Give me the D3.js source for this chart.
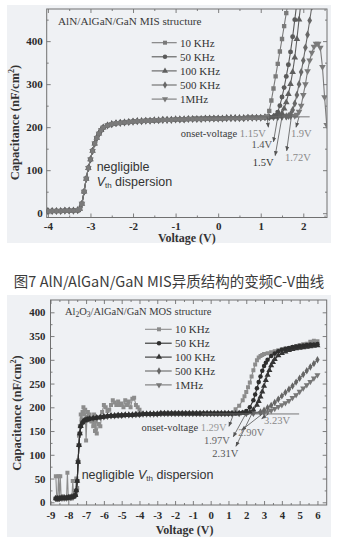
<!DOCTYPE html>
<html>
<head>
<meta charset="utf-8">
<script src="https://cdn.jsdelivr.net/npm/d3@7/dist/d3.min.js"></script>
<style>
  html, body { margin: 0; padding: 0; background: #fff; }
  svg { display: block; }
</style>
</head>
<body>
<svg id="fig" width="338" height="537"></svg>
<script>
// ---------------------------------------------------------------------------
// Data: capacitance (nF/cm²) versus gate voltage (V)
// ---------------------------------------------------------------------------
const frequencies = ["10 KHz", "50 KHz", "100 KHz", "500 KHz", "1MHz"];

// AlN/AlGaN/GaN MIS structure — part of the sweep shared by every frequency
const misShared = [
  [-4.0, 5], [-3.9, 5], [-3.8, 5], [-3.7, 5], [-3.6, 6], [-3.5, 6], [-3.4, 6],
  [-3.3, 7], [-3.25, 10], [-3.2, 22], [-3.15, 50], [-3.1, 80], [-3.05, 105],
  [-3.0, 125], [-2.95, 145], [-2.9, 162], [-2.85, 175], [-2.8, 185], [-2.75, 193],
  [-2.7, 199], [-2.6, 204], [-2.5, 207], [-2.4, 209], [-2.3, 210], [-2.2, 211],
  [-2.1, 212], [-2.0, 213], [-1.9, 214], [-1.8, 214], [-1.7, 215], [-1.6, 215],
  [-1.5, 216], [-1.4, 216], [-1.3, 217], [-1.2, 217], [-1.1, 217], [-1.0, 218],
  [-0.9, 218], [-0.8, 218], [-0.7, 219], [-0.6, 219], [-0.5, 219], [-0.4, 219],
  [-0.3, 220], [-0.2, 220], [-0.1, 220], [0.0, 220], [0.1, 220], [0.2, 221],
  [0.3, 221], [0.4, 221], [0.5, 221], [0.6, 221], [0.7, 222], [0.8, 222],
  [0.9, 222], [1.0, 222], [1.1, 223]
];
// accumulation branch of each frequency
const mis10k = [[1.15, 225], [1.2, 238], [1.25, 262], [1.3, 290], [1.35, 318], [1.4, 347],
  [1.45, 376], [1.5, 405], [1.55, 435], [1.6, 465], [1.65, 495]];
const mis50k = [[1.2, 223], [1.3, 224], [1.35, 227], [1.4, 235], [1.45, 250], [1.5, 270],
  [1.55, 292], [1.6, 318], [1.65, 345], [1.7, 375], [1.75, 410], [1.8, 450], [1.85, 490]];
const mis100k = [[1.2, 223], [1.3, 224], [1.4, 225], [1.45, 227], [1.5, 232], [1.55, 243],
  [1.6, 258], [1.65, 277], [1.7, 300], [1.75, 328], [1.8, 362], [1.85, 405], [1.9, 450], [1.95, 495]];
const mis500k = [[1.2, 223], [1.3, 224], [1.4, 224], [1.5, 225], [1.6, 225], [1.65, 226],
  [1.7, 230], [1.75, 240], [1.8, 255], [1.85, 275], [1.9, 300], [1.95, 328], [2.0, 355],
  [2.05, 385], [2.1, 415], [2.15, 448], [2.2, 480]];
const mis1m = [[1.2, 223], [1.3, 224], [1.4, 224], [1.5, 224], [1.6, 225], [1.7, 225],
  [1.8, 226], [1.85, 229], [1.9, 236], [1.95, 250], [2.0, 275], [2.05, 300], [2.1, 330],
  [2.15, 355], [2.2, 373], [2.25, 387], [2.3, 394], [2.35, 394], [2.4, 385], [2.45, 340],
  [2.5, 270], [2.55, 205]];

const misOnsetV = [1.15, 1.4, 1.5, 1.72, 1.9];
const misOnsetText = ["1.15V", "1.4V", "1.5V", "1.72V", "1.9V"];
const misBaselineC = 224;
const misXTicks = [-4, -3, -2, -1, 0, 1, 2];
const misXMinor = [-3.5, -2.5, -1.5, -0.5, 0.5, 1.5, 2.5];
const misYTicks = [0, 100, 200, 300, 400];
const misYMinor = [50, 150, 250, 350, 450];

// Al2O3/AlGaN/GaN MOS structure
const mosLead10k = [
  [-8.7, 55], [-8.65, 10], [-8.6, 5], [-8.55, 55], [-8.5, 10], [-8.45, 55], [-8.4, 8],
  [-8.3, 12], [-8.2, 10], [-8.1, 8], [-8.05, 62], [-8.0, 10], [-7.9, 12], [-7.8, 8],
  [-7.75, 45], [-7.7, 15], [-7.6, 20], [-7.55, 50], [-7.5, 30], [-7.45, 88], [-7.4, 140],
  [-7.35, 160], [-7.3, 185], [-7.25, 175], [-7.2, 190], [-7.15, 200], [-7.1, 185],
  [-7.05, 195], [-7.0, 130], [-6.95, 180], [-6.9, 190], [-6.85, 175], [-6.8, 185],
  [-6.7, 170], [-6.6, 160], [-6.55, 185], [-6.5, 150], [-6.45, 170], [-6.4, 145],
  [-6.3, 165], [-6.2, 160], [-6.1, 190], [-6.0, 205], [-5.9, 200], [-5.8, 192],
  [-5.7, 195], [-5.6, 205], [-5.5, 215], [-5.4, 210], [-5.3, 205], [-5.2, 212],
  [-5.1, 205], [-5.0, 208], [-4.9, 200], [-4.8, 215], [-4.7, 205], [-4.6, 212],
  [-4.5, 200], [-4.4, 218], [-4.3, 220], [-4.2, 205], [-4.1, 200], [-4.0, 195]
];
const mosLead = [
  [-8.7, 8], [-8.6, 8], [-8.5, 8], [-8.4, 9], [-8.3, 9], [-8.2, 9], [-8.1, 9], [-8.0, 10],
  [-7.9, 10], [-7.8, 11], [-7.7, 12], [-7.6, 15], [-7.55, 25], [-7.5, 45], [-7.45, 85],
  [-7.4, 120], [-7.35, 145], [-7.3, 160], [-7.2, 168], [-7.1, 172], [-7.0, 174],
  [-6.9, 175], [-6.8, 176], [-6.6, 177], [-6.4, 178], [-6.2, 179], [-6.0, 180],
  [-5.8, 181], [-5.6, 182], [-5.4, 182], [-5.2, 183], [-5.0, 183], [-4.8, 184],
  [-4.6, 184], [-4.4, 184], [-4.2, 185], [-4.0, 185]
];
const mosShared = [
  [-3.8, 186], [-3.6, 186], [-3.4, 186], [-3.2, 186], [-3.0, 186], [-2.8, 187],
  [-2.6, 187], [-2.4, 187], [-2.2, 187], [-2.0, 187], [-1.8, 187], [-1.6, 187],
  [-1.4, 187], [-1.2, 187], [-1.0, 187], [-0.8, 187], [-0.6, 187], [-0.4, 187],
  [-0.2, 187], [0.0, 187], [0.2, 187], [0.4, 187], [0.6, 187], [0.8, 187], [1.0, 187]
];
const mos10k = [[1.2, 188], [1.4, 196], [1.6, 203], [1.8, 215], [1.9, 223], [2.0, 232],
  [2.1, 242], [2.2, 252], [2.3, 265], [2.4, 278], [2.5, 290], [2.6, 299], [2.7, 305],
  [2.8, 308], [2.9, 310], [3.0, 312], [3.2, 314], [3.4, 316], [3.6, 318], [3.8, 320],
  [4.0, 322], [4.2, 324], [4.4, 325], [4.6, 327], [4.8, 329], [5.0, 331], [5.2, 333],
  [5.4, 334], [5.6, 338], [5.7, 335], [5.8, 340], [5.9, 336], [6.0, 339]];
const mos50k = [[1.2, 187], [1.4, 187], [1.6, 188], [1.8, 189], [2.0, 192], [2.2, 200],
  [2.4, 215], [2.5, 227], [2.6, 240], [2.7, 253], [2.8, 265], [2.9, 277], [3.0, 287],
  [3.1, 294], [3.2, 300], [3.4, 308], [3.6, 313], [3.8, 318], [4.0, 321], [4.2, 323],
  [4.4, 325], [4.6, 327], [4.8, 328], [5.0, 329], [5.2, 330], [5.4, 331], [5.6, 332],
  [5.8, 332], [6.0, 333]];
const mos100k = [[1.2, 187], [1.4, 187], [1.6, 187], [1.8, 188], [2.0, 188], [2.2, 190],
  [2.4, 195], [2.6, 205], [2.7, 213], [2.8, 222], [2.9, 233], [3.0, 245], [3.1, 257],
  [3.2, 268], [3.3, 278], [3.4, 288], [3.5, 295], [3.6, 301], [3.8, 309], [4.0, 314],
  [4.2, 317], [4.4, 320], [4.6, 322], [4.8, 324], [5.0, 325], [5.2, 326], [5.4, 327],
  [5.6, 328], [5.8, 329], [6.0, 330]];
const mos500k = [[1.2, 187], [1.6, 187], [2.0, 187], [2.4, 188], [2.8, 190], [3.0, 194],
  [3.2, 199], [3.4, 204], [3.6, 210], [3.8, 217], [4.0, 224], [4.2, 231], [4.4, 238],
  [4.6, 245], [4.8, 253], [5.0, 261], [5.2, 269], [5.4, 277], [5.6, 285], [5.8, 292], [6.0, 300]];
const mos1m = [[1.2, 187], [1.6, 187], [2.0, 187], [2.4, 187], [2.8, 188], [3.0, 188],
  [3.2, 190], [3.4, 193], [3.6, 197], [3.8, 201], [4.0, 205], [4.2, 209], [4.4, 214],
  [4.6, 220], [4.8, 226], [5.0, 233], [5.2, 240], [5.4, 247], [5.6, 254], [5.8, 261], [6.0, 268]];

const mosOnsetV = [1.29, 1.97, 2.31, 2.90, 3.23];
const mosOnsetText = ["1.29V", "1.97V", "2.31V", "2.90V", "3.23V"];
const mosBaselineC = 186;
const mosXTicks = [-9, -8, -7, -6, -5, -4, -3, -2, -1, 0, 1, 2, 3, 4, 5, 6];
const mosXMinor = [-8.5, -7.5, -6.5, -5.5, -4.5, -3.5, -2.5, -1.5, -0.5, 0.5, 1.5, 2.5, 3.5, 4.5, 5.5];
const mosYTicks = [0, 50, 100, 150, 200, 250, 300, 350, 400];
const mosYMinor = [25, 75, 125, 175, 225, 275, 325, 375];

const captionText = "图7 AlN/AlGaN/GaN MIS异质结构的变频C-V曲线";

// ---------------------------------------------------------------------------
// Styles
// ---------------------------------------------------------------------------
const SERIF = "'Liberation Serif','Times New Roman',serif";
const SANS = "'Liberation Sans',Arial,sans-serif";
const CJK = "'Noto Sans CJK SC','Noto Sans',sans-serif";
const FRAME = "#707070";
const PAPER = "#eff1f4";

const symbolTypes = [d3.symbolSquare, d3.symbolCircle, d3.symbolTriangle, d3.symbolDiamond, d3.symbolTriangle];
const symbolTurn = [0, 0, 0, 0, 180];

const svg = d3.select("#fig");
const defs = svg.append("defs");

defs.append("marker")
  .attr("id", "arrowhead")
  .attr("viewBox", "0 0 10 10")
  .attr("refX", 9).attr("refY", 5)
  .attr("markerUnits", "userSpaceOnUse")
  .attr("markerWidth", 5).attr("markerHeight", 5)
  .attr("orient", "auto")
  .append("path").attr("d", "M0,1 L10,5 L0,9 Z").attr("fill", "#555");

// scanned-paper tone behind each panel
svg.append("rect").attr("x", 7).attr("y", 5).attr("width", 324).attr("height", 238).attr("fill", PAPER);
svg.append("rect").attr("x", 7).attr("y", 295).attr("width", 324).attr("height", 242).attr("fill", PAPER);

// ---------------------------------------------------------------------------
// One C-V panel
// ---------------------------------------------------------------------------
function drawPanel(p) {
  const f = p.frame;
  const x = d3.scaleLinear().domain(p.xDomain).range([f.left, f.right]);
  const y = d3.scaleLinear().domain(p.yDomain).range([f.bottom, f.top]);
  const g = svg.append("g");

  defs.append("clipPath").attr("id", p.id + "-clip")
    .append("rect").attr("x", f.left).attr("y", f.top)
    .attr("width", f.right - f.left).attr("height", f.bottom - f.top);

  const styleAxis = sel => {
    sel.select(".domain").remove();
    sel.selectAll("line").attr("stroke", FRAME).attr("stroke-width", 0.9);
    sel.selectAll("text").attr("font-family", SERIF).attr("font-weight", "bold")
      .attr("font-size", p.tickFont).attr("fill", "#2b2b2b");
  };
  const fmt = d => String(d);

  // major and minor ticks on all four sides, pointing inward
  g.append("g").attr("transform", `translate(0,${f.bottom})`)
    .call(d3.axisBottom(x).tickValues(p.xTicks).tickSize(-4).tickPadding(p.xPad).tickFormat(fmt)).call(styleAxis);
  g.append("g").attr("transform", `translate(0,${f.bottom})`)
    .call(d3.axisBottom(x).tickValues(p.xMinor).tickSize(-2).tickFormat("")).call(styleAxis);
  g.append("g").attr("transform", `translate(0,${f.top})`)
    .call(d3.axisTop(x).tickValues(p.xTicks).tickSize(-4).tickFormat("")).call(styleAxis);
  g.append("g").attr("transform", `translate(0,${f.top})`)
    .call(d3.axisTop(x).tickValues(p.xMinor).tickSize(-2).tickFormat("")).call(styleAxis);
  g.append("g").attr("transform", `translate(${f.left},0)`)
    .call(d3.axisLeft(y).tickValues(p.yTicks).tickSize(-4).tickPadding(p.yPad).tickFormat(fmt)).call(styleAxis);
  g.append("g").attr("transform", `translate(${f.left},0)`)
    .call(d3.axisLeft(y).tickValues(p.yMinor).tickSize(-2).tickFormat("")).call(styleAxis);
  g.append("g").attr("transform", `translate(${f.right},0)`)
    .call(d3.axisRight(y).tickValues(p.yTicks).tickSize(-4).tickFormat("")).call(styleAxis);
  g.append("g").attr("transform", `translate(${f.right},0)`)
    .call(d3.axisRight(y).tickValues(p.yMinor).tickSize(-2).tickFormat("")).call(styleAxis);

  g.append("rect").attr("x", f.left).attr("y", f.top)
    .attr("width", f.right - f.left).attr("height", f.bottom - f.top)
    .attr("fill", "none").attr("stroke", FRAME).attr("stroke-width", 1);

  // curves
  const plot = g.append("g").attr("clip-path", `url(#${p.id}-clip)`);
  const line = d3.line().x(d => x(d[0])).y(d => y(d[1]));
  p.drawOrder.forEach(i => {
    const s = p.series[i];
    const col = p.colors[i];
    plot.append("path").datum(s).attr("d", line)
      .attr("fill", "none").attr("stroke", col).attr("stroke-width", 1.1);
    const sym = d3.symbol().type(symbolTypes[i]).size(p.symbolSize);
    plot.append("g").selectAll("path").data(s).join("path")
      .attr("d", sym)
      .attr("transform", d => `translate(${x(d[0])},${y(d[1])}) rotate(${symbolTurn[i]})`)
      .attr("fill", col);
  });

  // onset reference line
  plot.append("line")
    .attr("x1", x(p.baseFrom)).attr("x2", x(p.baseTo))
    .attr("y1", y(p.baselineC)).attr("y2", y(p.baselineC))
    .attr("stroke", "#6a6a6a").attr("stroke-width", 0.9);

  // onset arrows and labels
  p.onsetV.forEach((v, i) => {
    const tip = p.arrowTips[i];
    g.append("line")
      .attr("x1", x(v)).attr("y1", y(p.baselineC))
      .attr("x2", x(tip[0])).attr("y2", y(tip[1]))
      .attr("stroke", "#555").attr("stroke-width", 0.8)
      .attr("marker-end", "url(#arrowhead)");
    const lab = p.labelPos[i];
    const t = g.append("text")
      .attr("x", x(lab[0])).attr("y", y(lab[1]))
      .attr("text-anchor", lab[2])
      .attr("font-family", SERIF).attr("font-size", 10.5);
    if (i === 0) {
      t.append("tspan").attr("fill", "#3a3a3a").text("onset-voltage ");
    }
    t.append("tspan").attr("fill", p.onsetColors[i]).text(p.onsetText[i]);
  });

  // structure title
  const title = g.append("text").attr("x", p.titlePos[0]).attr("y", p.titlePos[1])
    .attr("font-family", SERIF).attr("font-size", p.titleFont).attr("fill", "#3a3a3a");
  p.title.forEach(part => {
    const ts = title.append("tspan").text(part.t);
    if (part.sub) ts.attr("font-size", 7.5).attr("dy", 2);
    if (part.after) ts.attr("dy", part.after);
  });

  // legend
  const lg = g.append("g");
  frequencies.forEach((name, i) => {
    const ly = p.legend.y + i * p.legend.step;
    lg.append("line").attr("x1", p.legend.x0).attr("x2", p.legend.x1)
      .attr("y1", ly).attr("y2", ly).attr("stroke", p.colors[i]).attr("stroke-width", 1.1);
    lg.append("path").attr("d", d3.symbol().type(symbolTypes[i]).size(16))
      .attr("transform", `translate(${p.legend.xm},${ly}) rotate(${symbolTurn[i]})`)
      .attr("fill", p.colors[i]);
    lg.append("text").attr("x", p.legend.xt).attr("y", ly).attr("dy", "0.35em")
      .attr("font-family", SERIF).attr("font-size", 11).attr("fill", "#333").text(name);
  });

  // threshold-voltage note
  p.note.forEach(row => {
    const t = g.append("text").attr("x", x(row.at[0])).attr("y", y(row.at[1]))
      .attr("font-family", SANS).attr("font-size", 12.5).attr("fill", "#333");
    row.parts.forEach(part => {
      const ts = t.append("tspan").text(part.t);
      if (part.italic) ts.attr("font-style", "italic");
      if (part.sub) ts.attr("font-size", 8).attr("dy", 2);
      if (part.after) ts.attr("dy", part.after);
    });
  });

  // axis titles
  g.append("text").attr("x", (f.left + f.right) / 2 + p.xTitleShift).attr("y", p.xTitleY)
    .attr("text-anchor", "middle").attr("font-family", SERIF).attr("font-weight", "bold")
    .attr("font-size", 12).attr("fill", "#333").text("Voltage (V)");
  const yt = g.append("text")
    .attr("transform", `translate(${p.yTitle[0]},${p.yTitle[1]}) rotate(-90)`)
    .attr("text-anchor", "middle").attr("font-family", SERIF).attr("font-weight", "bold")
    .attr("font-size", 12.5).attr("fill", "#333");
  yt.append("tspan").text("Capacitance (nF/cm");
  yt.append("tspan").attr("font-size", 8).attr("dy", -5).text("2");
  yt.append("tspan").attr("dy", 5).text(")");
}

drawPanel({
  id: "mis",
  frame: { left: 46.7, right: 327, top: 9, bottom: 217.5 },
  xDomain: [-4.028, 2.557],
  yDomain: [-10, 474.7],
  xTicks: misXTicks, xMinor: misXMinor, yTicks: misYTicks, yMinor: misYMinor,
  xPad: 5, yPad: 4, tickFont: 11,
  series: [misShared.concat(mis10k), misShared.concat(mis50k), misShared.concat(mis100k),
           misShared.concat(mis500k), misShared.concat(mis1m)],
  colors: ["#7a7a7a", "#5a5a5a", "#5f5f5f", "#686868", "#7a7a7a"],
  drawOrder: [4, 3, 2, 1, 0],
  symbolSize: 19,
  baselineC: misBaselineC, baseFrom: -0.6, baseTo: 2.15,
  onsetV: misOnsetV, onsetText: misOnsetText,
  onsetColors: ["#8a8a8a", "#555", "#333", "#8a8a8a", "#8a8a8a"],
  arrowTips: [[1.18, 200], [1.30, 166], [1.34, 134], [1.61, 145], [1.83, 200]],
  labelPos: [[1.12, 178, "end"], [1.27, 152, "end"], [1.30, 110, "end"], [1.57, 122, "start"], [1.71, 177, "start"]],
  title: [{ t: "AlN/AlGaN/GaN MIS structure" }],
  titlePos: [58, 24.5], titleFont: 11.2,
  legend: { x0: 151.7, x1: 176.7, xm: 165, xt: 180, y: 42.7, step: 14.1 },
  note: [
    { at: [-2.855, 98], parts: [{ t: "negligible" }] },
    { at: [-2.855, 63], parts: [{ t: "V", italic: true }, { t: "th", sub: true }, { t: " dispersion", after: -2 }] }
  ],
  xTitleShift: 0, xTitleY: 242,
  yTitle: [19, 122.5]
});

drawPanel({
  id: "mos",
  frame: { left: 50.5, right: 326.7, top: 300, bottom: 505 },
  xDomain: [-9, 6.52],
  yDomain: [-5.7, 425.9],
  xTicks: mosXTicks, xMinor: mosXMinor, yTicks: mosYTicks, yMinor: mosYMinor,
  xPad: 6.5, yPad: 5, tickFont: 10.8,
  series: [mosLead10k.concat(mosShared, mos10k), mosLead.concat(mosShared, mos50k),
           mosLead.concat(mosShared, mos100k), mosLead.concat(mosShared, mos500k),
           mosLead.concat(mosShared, mos1m)],
  colors: ["#8c8c8c", "#2e2e2e", "#353535", "#666666", "#777777"],
  drawOrder: [0, 4, 3, 2, 1],
  symbolSize: 16,
  baselineC: mosBaselineC, baseFrom: -0.5, baseTo: 4.97,
  onsetV: mosOnsetV, onsetText: mosOnsetText,
  onsetColors: ["#999", "#666", "#555", "#777", "#888"],
  arrowTips: [[1.03, 160], [1.27, 138], [1.42, 118], [1.74, 152], [2.87, 176]],
  labelPos: [[0.9, 151, "end"], [1.08, 122, "end"], [1.55, 95, "end"], [1.55, 140, "start"], [3.0, 165, "start"]],
  title: [{ t: "Al" }, { t: "2", sub: true }, { t: "O", after: -2 }, { t: "3", sub: true }, { t: "/AlGaN/GaN MOS structure", after: -2 }],
  titlePos: [65, 315], titleFont: 10.5,
  legend: { x0: 145, x1: 171.7, xm: 159, xt: 175, y: 329.3, step: 13.9 },
  note: [
    { at: [-7.25, 50], parts: [{ t: "negligible " }, { t: "V", italic: true }, { t: "th", sub: true }, { t: " dispersion", after: -2 }] }
  ],
  xTitleShift: -4, xTitleY: 533.5,
  yTitle: [21, 413]
});

// figure caption between the panels
svg.append("text").attr("x", 169).attr("y", 287)
  .attr("text-anchor", "middle")
  .attr("font-family", CJK).attr("font-size", 14.5).attr("fill", "#3c3c3c")
  .text(captionText);
</script>
</body>
</html>
